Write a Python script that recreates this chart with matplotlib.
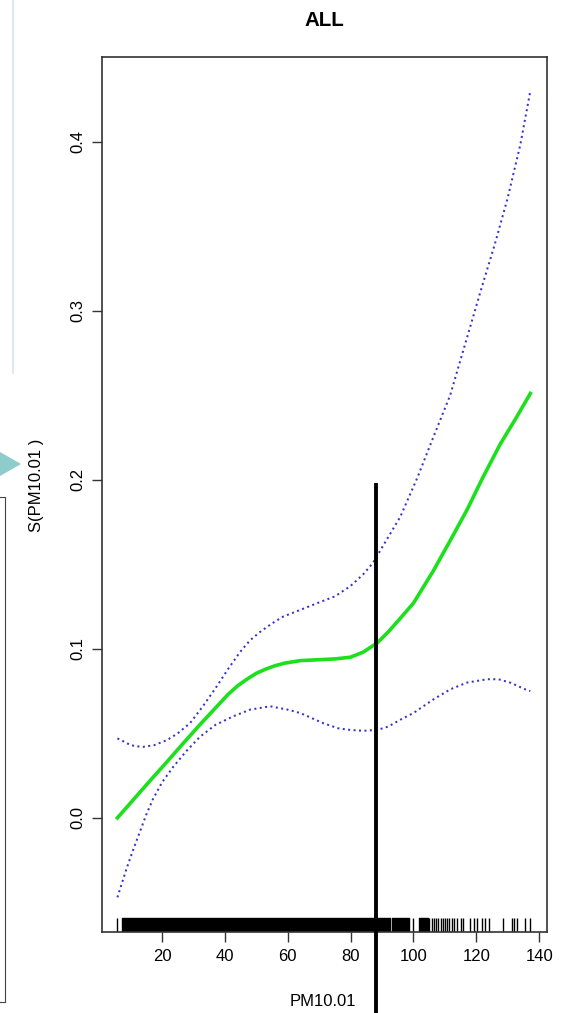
import numpy as np
import matplotlib.pyplot as plt
from matplotlib.lines import Line2D
from matplotlib.patches import Polygon

plt.rcParams['font.family'] = ['Liberation Sans', 'DejaVu Sans']

# smooth term
fit_x = [5.8, 11, 16.2, 21.5, 26.7, 32, 37.5, 41, 44, 47, 50, 53, 56, 59, 64, 69.4, 75,
         79.9, 84, 88.5, 92, 95.8, 100, 106.3, 111.7, 117, 122, 127.6, 132.5, 137.2]
fit_y = [0.000, 0.011, 0.022, 0.033, 0.044, 0.055, 0.066, 0.073, 0.078, 0.082, 0.0855,
         0.088, 0.090, 0.0915, 0.093, 0.0935, 0.094, 0.095, 0.098, 0.1035, 0.110, 0.118,
         0.127, 0.146, 0.164, 0.182, 0.201, 0.221, 0.236, 0.251]

upper_x = [5.8, 8, 10, 12, 14, 17.5, 21.6, 25, 28.9, 33, 37.5, 41, 44.8, 48, 51.2, 55, 58.5,
           64, 69.4, 75, 79.9, 84, 87.2, 91, 95.8, 101.2, 106.3, 111.7, 115, 121.3, 126,
           129.9, 134, 137.2]
upper_y = [0.047, 0.045, 0.043, 0.0423, 0.042, 0.043, 0.046, 0.050, 0.056, 0.066, 0.078,
           0.088, 0.098, 0.105, 0.110, 0.115, 0.119, 0.123, 0.127, 0.131, 0.137, 0.144,
           0.151, 0.163, 0.178, 0.201, 0.225, 0.250, 0.271, 0.311, 0.340, 0.366, 0.398,
           0.430]

lower_x = [5.8, 7, 8.9, 11, 13, 15, 17.1, 20, 23.5, 27.5, 32.1, 37, 42.6, 48, 54.4, 60, 64,
           71.3, 76, 79.9, 84, 88.5, 92, 95.8, 100, 106.3, 111.7, 117, 123.5, 127, 130.8,
           135.6, 137.2]
lower_y = [-0.047, -0.040, -0.029, -0.018, -0.008, 0.002, 0.011, 0.021, 0.030, 0.039, 0.048,
           0.055, 0.060, 0.064, 0.066, 0.064, 0.062, 0.056, 0.053, 0.052, 0.0515, 0.052,
           0.054, 0.058, 0.062, 0.070, 0.076, 0.080, 0.082, 0.082, 0.080, 0.076, 0.075]

# rug: solid runs where the ticks merge, then single ticks
rug_runs = [(7.3, 92.6), (93.2, 98.7), (101.8, 104.7)]
rug_ticks = [5.7, 99.9, 105.0, 106.0, 106.6, 107.3, 107.9, 108.9, 109.5, 110.1, 110.8,
             111.4, 112.4, 113.0, 113.9, 115.2, 115.9, 118.1, 119.4, 120.3, 121.9, 122.9,
             124.2, 128.6, 131.5, 132.1, 133.1, 135.6, 137.2]

cut_x = 88.1

xticks = [20, 40, 60, 80, 100, 120, 140]
yticks = [0.0, 0.1, 0.2, 0.3, 0.4]

W, H = 564, 1013
fig = plt.figure(figsize=(W / 100, H / 100), dpi=100)
ax = fig.add_axes([102 / W, 1 - 932 / H, 445 / W, 875 / H])

ax.plot(upper_x, upper_y, color='#3434cc', lw=1.45, ls=(0, (1, 1.7)))
ax.plot(lower_x, lower_y, color='#3434cc', lw=1.45, ls=(0, (1, 1.7)))
ax.plot(fit_x, fit_y, color='#1be01b', lw=2.6)

tr = ax.get_xaxis_transform()
ax.broken_barh([(a, b - a) for a, b in rug_runs], (0, 0.016), color='black', transform=tr)
ax.vlines(rug_ticks, 0, 0.016, color='black', lw=1, transform=tr)

ax.plot([cut_x, cut_x], [0.197, -0.116], color='black', lw=2.8, clip_on=False, zorder=5)

ax.set_xlim(0.9, 142.5)
ax.set_ylim(-0.0675, 0.450)
ax.set_xticks(xticks)
ax.set_yticks(yticks)
ax.set_yticklabels(['%.1f' % v for v in yticks], rotation=90, va='center')
ax.tick_params(length=7, width=1, color='#333333', labelsize=12, pad=5)
for s in ax.spines.values():
    s.set_color('#333333')
    s.set_linewidth(1.2)

ax.set_title('ALL', fontsize=14.8, fontweight='bold', pad=22)
ax.set_xlabel('PM10.01', fontsize=12)
ax.set_ylabel('S(PM10.01 )', fontsize=12)
ax.xaxis.set_label_coords(0.497, -0.071)
ax.yaxis.set_label_coords(-0.13, 0.511)

# bits of the slide around the chart
def px(x, y):
    return (x / W, 1 - y / H)

fig.add_artist(Polygon([px(0, 452), px(21, 464), px(0, 476)], closed=True,
                       transform=fig.transFigure, color='#8ecbcb', lw=0))
xs, ys = zip(px(0, 497), px(5, 497), px(5, 1002), px(0, 1002))
fig.add_artist(Line2D(xs, ys, transform=fig.transFigure, color='#444444', lw=0.8))
xs, ys = zip(px(13, 0), px(13, 373))
fig.add_artist(Line2D(xs, ys, transform=fig.transFigure, color='#cfe6ea', lw=1.2))

fig.savefig('out.png', dpi=100)
